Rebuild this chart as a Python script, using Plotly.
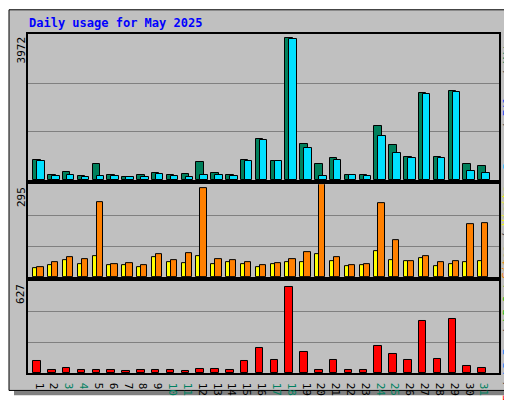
import plotly.graph_objects as go
from plotly.subplots import make_subplots

days = list(range(1, 32))
weekend_days = [3, 4, 10, 11, 17, 18, 24, 25, 31]

hits = [544, 140, 219, 114, 456, 140, 88, 140, 193, 140, 167, 509, 193, 140, 544, 1114,
        535, 3876, 982, 456, 613, 140, 140, 1483, 956, 640, 2376, 640, 2430, 456, 377]
pages = [517, 114, 140, 88, 114, 114, 88, 88, 167, 114, 88, 140, 140, 114, 517, 1087,
         535, 3850, 876, 114, 561, 140, 114, 1195, 745, 613, 2350, 613, 2402, 245, 193]
visits = [29, 38, 54, 41, 66, 38, 38, 32, 63, 48, 45, 66, 41, 48, 41, 32,
          41, 48, 48, 72, 51, 35, 38, 82, 54, 51, 60, 35, 41, 48, 51]
sites = [32, 48, 63, 57, 240, 41, 44, 38, 72, 54, 76, 284, 57, 54, 48, 38,
         44, 57, 79, 295, 63, 38, 41, 237, 119, 51, 66, 48, 51, 169, 172]
kbytes = [81, 21, 34, 21, 21, 21, 15, 21, 21, 21, 15, 28, 28, 21, 81, 169,
          86, 586, 143, 21, 92, 21, 21, 182, 131, 86, 355, 98, 368, 47, 34]

max_hits, max_visits, max_kb = 3972, 295, 627

W, H, L, R, T, B = 512, 400, 20, 21, 26, 24
PW, PH = W - L - R, H - T - B


def px(x):
    return (x - L) / PW


def py(y):
    return (H - B - y) / PH


fig = make_subplots(rows=3, cols=1, shared_xaxes=True)

fig.add_trace(go.Bar(x=days, y=hits, offset=-0.52, width=0.5, marker_color="#00805c",
                     marker_line=dict(color="black", width=1)), row=1, col=1)
fig.add_trace(go.Bar(x=days, y=pages, offset=-0.25, width=0.5, marker_color="#00e0ff",
                     marker_line=dict(color="black", width=1)), row=1, col=1)
fig.add_trace(go.Bar(x=days, y=visits, offset=-0.52, width=0.28, marker_color="#ffff00",
                     marker_line=dict(color="black", width=1)), row=2, col=1)
fig.add_trace(go.Bar(x=days, y=sites, offset=-0.25, width=0.42, marker_color="#ff8000",
                     marker_line=dict(color="black", width=1)), row=2, col=1)
fig.add_trace(go.Bar(x=days, y=kbytes, offset=-0.52, width=0.5, marker_color="#ff0000",
                     marker_line=dict(color="black", width=1)), row=3, col=1)

domains = [(py(177), py(26)), (py(277), py(181)), (py(376), py(281))]
maxes = [max_hits, max_visits, max_kb]
for i, (dom, m) in enumerate(zip(domains, maxes)):
    ya = "yaxis" if i == 0 else f"yaxis{i + 1}"
    fig.layout[ya].update(domain=list(dom), range=[0, m * 1.005], tickvals=[m / 3, 2 * m / 3],
                          showticklabels=False, ticks="", showgrid=True, gridcolor="#808080",
                          gridwidth=1, zeroline=False, showline=True, linecolor="black",
                          linewidth=2, mirror=True)
    xa = "xaxis" if i == 0 else f"xaxis{i + 1}"
    fig.layout[xa].update(range=[0.12, 31.88], showgrid=False, zeroline=False, showline=True,
                          linecolor="black", linewidth=2, mirror=True, ticks="",
                          showticklabels=(i == 2))

ticktext = [f"<span style='color:#008060'>{d}</span>" if d in weekend_days else str(d) for d in days]
fig.update_xaxes(tickvals=days, ticktext=ticktext, tickfont=dict(family="DejaVu Sans Mono", size=11, color="black"),
                 row=3, col=1)

shapes = [
    dict(type="rect", xref="paper", yref="paper", x0=px(6), x1=px(511), y0=py(399), y1=py(6),
         fillcolor="#808080", line_width=0, layer="below"),
    dict(type="rect", xref="paper", yref="paper", x0=px(1), x1=px(505), y0=py(394), y1=py(1),
         fillcolor="#c0c0c0", line=dict(color="black", width=1), layer="below"),
]

mono = "DejaVu Sans Mono"
annotations = [
    dict(text="<b>Daily usage for May 2025</b>", x=px(19), y=py(15), xanchor="left", yanchor="middle",
         font=dict(family=mono, size=12, color="#0000ff")),
    dict(text="3972", x=px(13), y=py(27), textangle=-90, xanchor="center", yanchor="top",
         font=dict(family=mono, size=11, color="black")),
    dict(text="295", x=px(13), y=py(182), textangle=-90, xanchor="center", yanchor="top",
         font=dict(family=mono, size=11, color="black")),
    dict(text="627", x=px(13), y=py(282), textangle=-90, xanchor="center", yanchor="top",
         font=dict(family=mono, size=11, color="black")),
    dict(text="<span style='color:#00c0ff'>Pages</span> / <span style='color:#0040ff'>Files</span>"
              " / <span style='color:#00805c'>Hits</span>",
         x=px(499), y=py(27), textangle=-90, xanchor="center", yanchor="top",
         font=dict(family=mono, size=11, color="#404040")),
    dict(text="<span style='color:#ff8000'>Sites</span> / <span style='color:#ffff00'>Visits</span>",
         x=px(499), y=py(181), textangle=-90, xanchor="center", yanchor="top",
         font=dict(family=mono, size=11, color="#404040")),
    dict(text="<span style='color:#ff0000'>kB F</span> / <span style='color:#0080ff'>kB In</span>"
              " / <span style='color:#00c000'>kB Out</span>",
         x=px(499), y=py(281), textangle=-90, xanchor="center", yanchor="top",
         font=dict(family=mono, size=11, color="#404040")),
]
for a in annotations:
    a.update(xref="paper", yref="paper", showarrow=False)

fig.update_layout(
    width=W, height=H, margin=dict(l=L, r=R, t=T, b=B),
    paper_bgcolor="white", plot_bgcolor="rgba(0,0,0,0)",
    barmode="overlay", showlegend=False, bargap=0,
    shapes=shapes, annotations=annotations,
    font=dict(family=mono, size=11),
)

fig.write_html("out.html")
